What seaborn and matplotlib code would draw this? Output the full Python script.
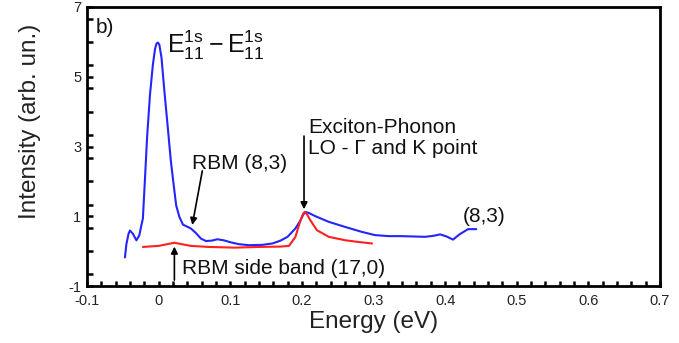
import numpy as np
import pandas as pd
import matplotlib
matplotlib.use("Agg")
import matplotlib.pyplot as plt
from matplotlib.ticker import MultipleLocator
import seaborn as sns

# Measured PL excitation spectrum of the (8,3) tube (blue)
energy_83 = [-0.047, -0.045, -0.042, -0.040, -0.036, -0.031, -0.027, -0.024, -0.022,
             -0.019, -0.016, -0.012, -0.008, -0.005, -0.003, -0.001, 0.001, 0.004,
             0.008, 0.013, 0.017, 0.020, 0.0245, 0.029, 0.034, 0.045, 0.052,
             0.059, 0.066, 0.074, 0.082, 0.091, 0.101, 0.112, 0.126, 0.145,
             0.159, 0.170, 0.180, 0.191, 0.198, 0.202, 0.205, 0.209, 0.214,
             0.219, 0.2375, 0.261, 0.284, 0.302, 0.321, 0.339, 0.356, 0.372,
             0.384, 0.393, 0.402, 0.411, 0.420, 0.432, 0.4435]
intensity_83 = [-0.18, 0.20, 0.50, 0.59, 0.50, 0.31, 0.45, 0.75, 0.93,
                2.10, 3.30, 4.50, 5.35, 5.80, 5.95, 5.98, 5.92, 5.55,
                4.60, 3.50, 2.60, 2.07, 1.31, 0.98, 0.76, 0.65, 0.52,
                0.36, 0.29, 0.30, 0.34, 0.31, 0.25, 0.20, 0.17, 0.18,
                0.22, 0.30, 0.41, 0.65, 0.88, 1.05, 1.12, 1.10, 1.05,
                1.00, 0.84, 0.69, 0.55, 0.46, 0.43, 0.43, 0.42, 0.41,
                0.44, 0.48, 0.42, 0.33, 0.48, 0.63, 0.63]

# Calculated exciton-phonon side band of the (17,0) tube (red)
energy_170 = [-0.022, 0.000, 0.022, 0.045, 0.070, 0.106, 0.140, 0.170, 0.182,
              0.191, 0.198, 0.202, 0.204, 0.207, 0.212, 0.221, 0.2375, 0.261,
              0.280, 0.298]
intensity_170 = [0.12, 0.15, 0.24, 0.15, 0.12, 0.10, 0.12, 0.13, 0.15,
                 0.41, 0.88, 1.08, 1.12, 1.06, 0.88, 0.60, 0.41, 0.31,
                 0.26, 0.22]

x_ticks = [-0.1, 0.0, 0.1, 0.2, 0.3, 0.4, 0.5, 0.6, 0.7]
x_tick_labels = ["-0.1", "0", "0.1", "0.2", "0.3", "0.4", "0.5", "0.6", "0.7"]
y_ticks = [-1, 1, 3, 5, 7]
y_tick_labels = ["-1", "1", "3", "5", "7"]

df_83 = pd.DataFrame({"Energy": energy_83, "Intensity": intensity_83})
df_170 = pd.DataFrame({"Energy": energy_170, "Intensity": intensity_170})

sns.set_theme(style="ticks")
plt.rcParams["font.family"] = ["Liberation Sans", "DejaVu Sans"]
plt.rcParams["mathtext.fontset"] = "custom"
plt.rcParams["mathtext.rm"] = "Liberation Sans"
plt.rcParams["mathtext.it"] = "Liberation Sans"

fig = plt.figure(figsize=(6.79, 3.43), dpi=100)
ax = fig.add_axes([87 / 679, 1 - 286 / 343, 573 / 679, 279 / 343])

sns.lineplot(data=df_83, x="Energy", y="Intensity", ax=ax, sort=False,
             estimator=None, color="#2424ff", linewidth=1.5)
sns.lineplot(data=df_170, x="Energy", y="Intensity", ax=ax, sort=False,
             estimator=None, color="#ff2020", linewidth=1.5)

ax.set_xlim(-0.1, 0.7)
ax.set_ylim(-1, 7)
ax.set_xticks(x_ticks)
ax.set_xticklabels(x_tick_labels)
ax.set_yticks(y_ticks)
ax.set_yticklabels(y_tick_labels)
ax.xaxis.set_minor_locator(MultipleLocator(0.02))
ax.yaxis.set_minor_locator(MultipleLocator(2 / 3))

for side in ["left", "right", "top", "bottom"]:
    ax.spines[side].set_visible(True)
    ax.spines[side].set_linewidth(2.0)
    ax.spines[side].set_color("black")

ax.tick_params(axis="both", which="both", direction="in", top=False, right=False,
               width=1.8, color="black")
ax.tick_params(axis="both", which="major", labelsize=10.5, labelcolor="#222222")
ax.tick_params(axis="x", which="both", length=3.5)
ax.tick_params(axis="y", which="both", length=4.5)
ax.tick_params(axis="x", which="major", pad=6)
ax.tick_params(axis="y", which="major", pad=4)

ax.set_xlabel("Energy (eV)", fontsize=17.5, color="#222222")
ax.set_ylabel("Intensity (arb. un.)", fontsize=17.5, color="#222222")
ax.xaxis.set_label_coords(0.5, -0.09)
ax.yaxis.set_label_coords(-0.08, 0.59)

txt = dict(color="#111111", fontsize=15)
ax.text(-0.088, 6.4, "b)", va="center", ha="left", **txt)
ax.text(0.012, 5.9, r"$\mathregular{E_{11}^{1s} - E_{11}^{1s}}$", va="center",
        ha="left", color="#111111", fontsize=18)
ax.text(0.046, 2.5, "RBM (8,3)", va="center", ha="left", **txt)
ax.text(0.209, 3.55, "Exciton-Phonon", va="center", ha="left", **txt)
ax.text(0.209, 2.93, "LO - \u0393 and \u039a point", va="center", ha="left", **txt)
ax.text(0.425, 1.0, "(8,3)", va="center", ha="left", **txt)
ax.text(0.032, -0.5, "RBM side band (17,0)", va="center", ha="left", **txt)

arrow = dict(arrowstyle="-|>", color="black", lw=1.2, mutation_scale=10,
             shrinkA=0, shrinkB=0)
ax.annotate("", xy=(0.047, 0.75), xytext=(0.061, 2.3), arrowprops=arrow)
ax.annotate("", xy=(0.203, 1.2), xytext=(0.203, 3.3), arrowprops=arrow)
ax.annotate("", xy=(0.022, 0.13), xytext=(0.022, -0.83), arrowprops=arrow)

fig.savefig("out.png", dpi=100)
